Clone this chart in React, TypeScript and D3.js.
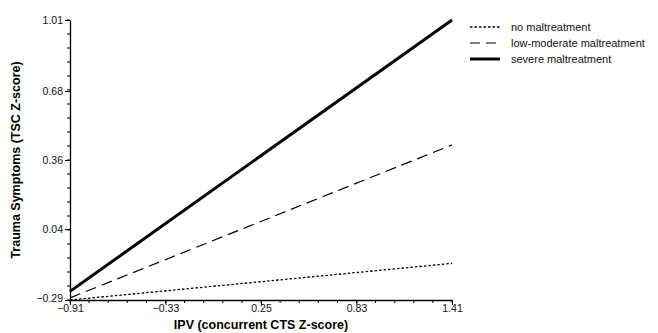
import { useEffect, useRef } from "react";
import * as d3 from "d3";

// x domain: IPV (concurrent CTS Z-score)
const xTicks = [-0.91, -0.33, 0.25, 0.83, 1.41];
const yTicks = [-0.29, 0.04, 0.36, 0.68, 1.01];

// each line goes from x = -0.91 to x = 1.41
const seriesNames = ["no maltreatment", "low-moderate maltreatment", "severe maltreatment"];
const startValues = [-0.29, -0.28, -0.25];
const endValues = [-0.12, 0.43, 1.01];

const styles = [
    { width: 1.3, dash: "2.5,2" },
    { width: 1.2, dash: "11,6" },
    { width: 3, dash: null },
];

function App() {
    const svgRef = useRef(null);
    const width = 658;
    const height = 333;

    useEffect(() => {
        const svg = d3.select(svgRef.current);
        svg.selectAll("*").remove();

        const margin = { left: 70, right: 206, top: 20, bottom: 33 };
        const x = d3.scaleLinear().domain([-0.91, 1.41]).range([margin.left, width - margin.right]);
        const y = d3.scaleLinear().domain([-0.29, 1.01]).range([height - margin.bottom, margin.top]);

        const font = "Arial, 'Liberation Sans', sans-serif";

        // minor ticks: 4 between each major
        const xMinor = d3.range(0, 21).map((i) => -0.91 + (i * 2.32) / 20);
        const yMinor = d3.range(0, 21).map((i) => -0.29 + (i * 1.3) / 20);

        const xAxis = d3.axisBottom(x).tickValues(xTicks).tickFormat(d3.format(".2f")).tickSize(5).tickSizeOuter(0);
        const yAxis = d3.axisLeft(y).tickValues(yTicks).tickFormat(d3.format(".2f")).tickSize(5).tickSizeOuter(0);

        const gx = svg.append("g").attr("transform", `translate(0,${y(-0.29)})`).call(xAxis);
        gx.selectAll("line.minor")
            .data(xMinor)
            .enter()
            .append("line")
            .attr("x1", (d) => x(d))
            .attr("x2", (d) => x(d))
            .attr("y1", 0)
            .attr("y2", 3)
            .attr("stroke", "#000");

        const gy = svg.append("g").attr("transform", `translate(${x(-0.91)},0)`).call(yAxis);
        gy.selectAll("line.minor")
            .data(yMinor)
            .enter()
            .append("line")
            .attr("x1", 0)
            .attr("x2", -3)
            .attr("y1", (d) => y(d))
            .attr("y2", (d) => y(d))
            .attr("stroke", "#000");

        [gx, gy].forEach((g) => {
            g.select(".domain").attr("stroke", "#000").attr("stroke-width", 1.3);
            g.selectAll(".tick line").attr("stroke", "#000");
            g.selectAll("text").attr("font-family", font).attr("font-size", 10.5).attr("fill", "#111");
        });
        gx.selectAll(".tick text").attr("dy", "0.55em").attr("y", 6);
        gy.selectAll(".tick text").attr("x", -7);
        // bottom y label sits a little higher so it clears the first x label
        gy.selectAll(".tick text").filter((d) => d === -0.29).attr("dy", "0.1em");

        // axis titles
        svg.append("text")
            .attr("x", x(0.25))
            .attr("y", 329)
            .attr("text-anchor", "middle")
            .attr("font-family", font)
            .attr("font-weight", "bold")
            .attr("font-size", 12.5)
            .text("IPV (concurrent CTS Z-score)");

        svg.append("text")
            .attr("transform", `translate(20,${y(0.36)}) rotate(-90)`)
            .attr("text-anchor", "middle")
            .attr("font-family", font)
            .attr("font-weight", "bold")
            .attr("font-size", 12.5)
            .text("Trauma Symptoms (TSC Z-score)");

        // lines
        seriesNames.forEach((name, i) => {
            const pts = [
                [-0.91, startValues[i]],
                [1.41, endValues[i]],
            ];
            const line = d3.line().x((d) => x(d[0])).y((d) => y(d[1]));
            svg.append("path")
                .attr("d", line(pts))
                .attr("fill", "none")
                .attr("stroke", "#000")
                .attr("stroke-width", styles[i].width)
                .attr("stroke-dasharray", styles[i].dash);
        });

        // legend
        const legend = svg.append("g").attr("transform", "translate(470,27)");
        seriesNames.forEach((name, i) => {
            const row = legend.append("g").attr("transform", `translate(0,${i * 16})`);
            row.append("line")
                .attr("x1", 0)
                .attr("x2", 30)
                .attr("y1", 0)
                .attr("y2", 0)
                .attr("stroke", "#000")
                .attr("stroke-width", styles[i].width)
                .attr("stroke-dasharray", i === 1 ? "10,6" : styles[i].dash);
            row.append("text")
                .attr("x", 41)
                .attr("y", 0)
                .attr("dy", "0.35em")
                .attr("font-family", font)
                .attr("font-size", 11)
                .attr("fill", "#111")
                .text(name);
        });
    }, []);

    return (
        <svg
            ref={svgRef}
            width={width}
            height={height}
            style={{ position: "absolute", left: 0, top: 0, background: "#fff" }}
        />
    );
}

export default App;
